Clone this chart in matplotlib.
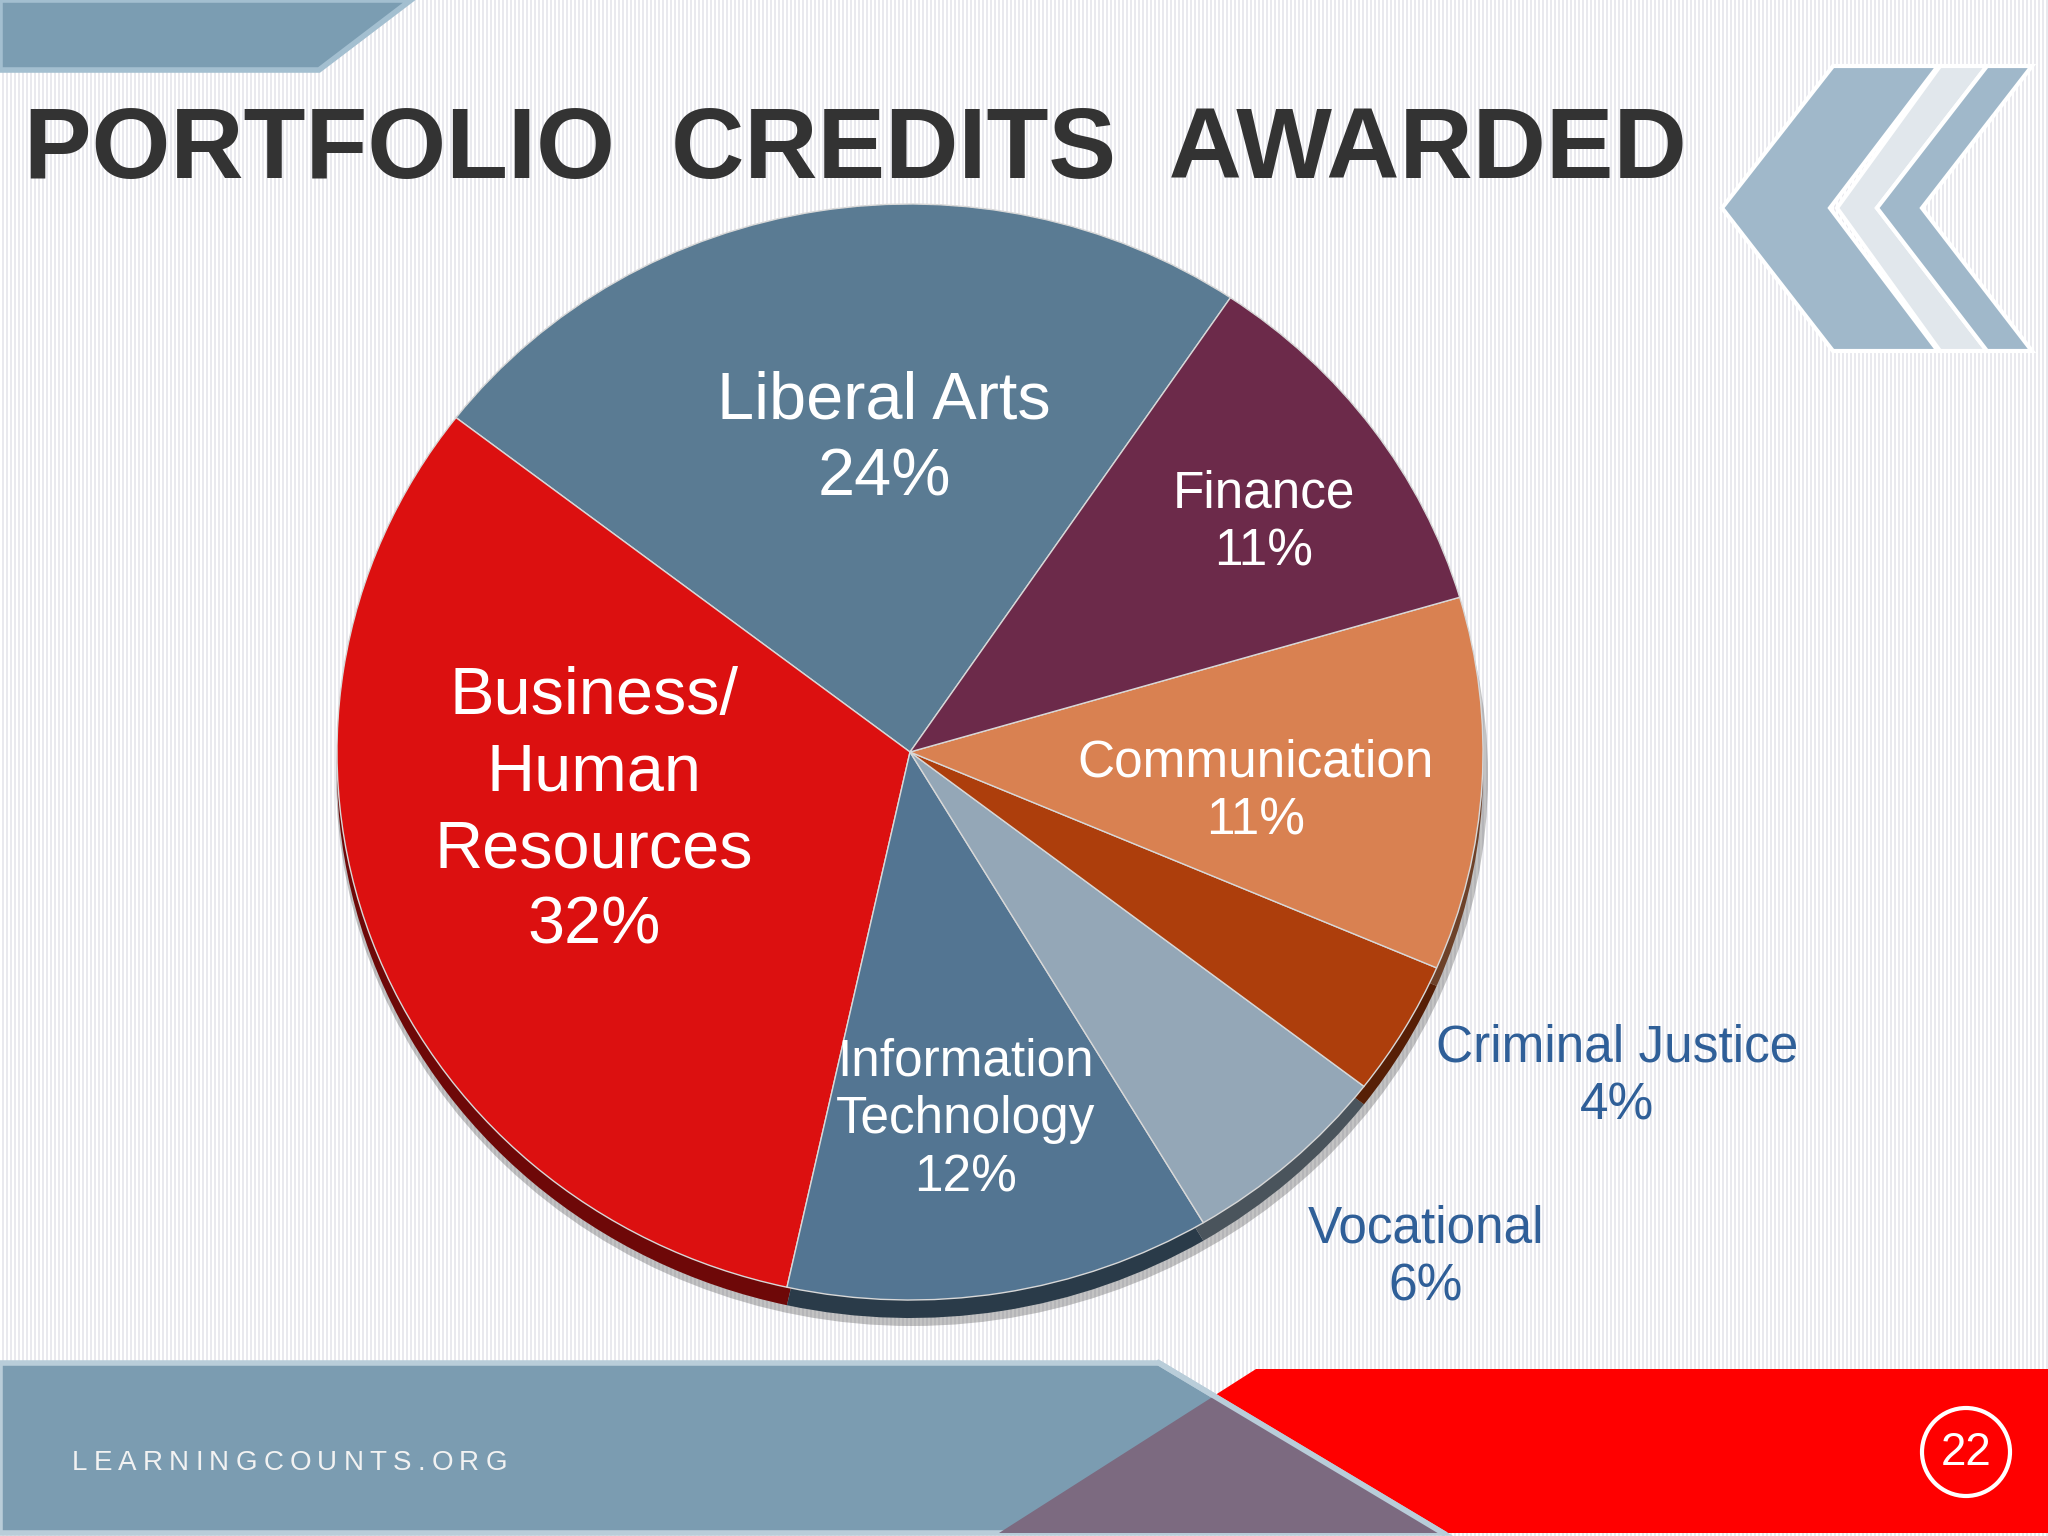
import numpy as np
import matplotlib.pyplot as plt
from matplotlib.patches import Polygon, Ellipse, Circle
from matplotlib.colors import to_rgb

# chart data
subjects = ['Liberal Arts', 'Business/\nHuman\nResources', 'Information\nTechnology',
            'Vocational', 'Criminal Justice', 'Communication', 'Finance']
shares = [24, 32, 12, 6, 4, 11, 11]
colors = ['#5a7b93', '#dc1010', '#537592', '#94a7b7', '#ad3e0c', '#d98151', '#6c2a4a']

# label placement (pixel coords of the slide) and style
label_pos = [(884, 440), (594, 812), (966, 1120), (1426, 1258), (1617, 1077), (1256, 792), (1264, 523)]
label_size = [48, 48, 37, 37, 37, 37, 37]
label_space = [1.3, 1.3, 1.25, 1.25, 1.25, 1.25, 1.25]
label_color = ['white', 'white', 'white', '#2f5f98', '#2f5f98', 'white', 'white']

W, H = 2048, 1536
plt.rcParams['font.family'] = ['Liberation Sans', 'DejaVu Sans']
fig = plt.figure(figsize=(20.48, 15.36), dpi=100)
bg = fig.add_axes([0, 0, 1, 1])

# striped backdrop
stripes = np.ones((1, W, 3))
stripes[0, np.arange(W) % 4 >= 2] = [0.915, 0.915, 0.935]
bg.imshow(stripes, extent=[0, W, H, 0], aspect='auto', interpolation='nearest', zorder=0)
bg.set_xlim(0, W)
bg.set_ylim(H, 0)
bg.axis('off')

# top-left banner
bg.add_patch(Polygon([(0, 0), (411, 0), (319, 70), (0, 70)], closed=True,
                     facecolor='#7b9db2', edgecolor='#a3bfd0', lw=4, zorder=2))

# chevrons top right
bg.add_patch(Polygon([(1722, 208), (1833, 66), (1938, 66), (1830, 208), (1938, 351), (1833, 351)],
                     closed=True, facecolor='#a0b8ca', edgecolor='white', lw=3, zorder=2))
bg.add_patch(Polygon([(1837, 208), (1940, 66), (1987, 66), (1877, 208), (1987, 351), (1940, 351)],
                     closed=True, facecolor='#e1e7ec', edgecolor='white', lw=3, zorder=2))
bg.add_patch(Polygon([(1877, 208), (1987, 66), (2032, 66), (1922, 208), (2032, 351), (1987, 351)],
                     closed=True, facecolor='#a0b8ca', edgecolor='white', lw=3, zorder=2))

# title
bg.text(24, 178, 'PORTFOLIO  CREDITS  AWARDED', fontsize=73, fontweight='bold',
        color='#333333', va='baseline', ha='left', zorder=3)

# bottom bands
bg.add_patch(Polygon([(1256, 1369), (W, 1369), (W, 1533), (999, 1533)], closed=True,
                     facecolor='#ff0000', edgecolor='none', zorder=2))
bg.add_patch(Polygon([(0, 1363), (1159, 1363), (1443, 1533), (0, 1533)], closed=True,
                     facecolor='#7b9cb1', edgecolor='#b9cdd9', lw=4, zorder=2))
bg.add_patch(Polygon([(1214, 1396), (999, 1533), (1443, 1533)], closed=True,
                     facecolor='#7c6a80', edgecolor='none', zorder=2))
bg.plot([1159, 1443], [1363, 1533], color='#b9cdd9', lw=4, zorder=2)

# page number
bg.add_patch(Circle((1966, 1452), 44, facecolor='none', edgecolor='white', lw=3, zorder=3))
bg.text(1966, 1453, '22', fontsize=33, color='white', ha='center', va='center', zorder=4)

# footer text with letter spacing
fig.canvas.draw()
renderer = fig.canvas.get_renderer()
x = 72
for ch in 'LEARNINGCOUNTS.ORG':
    t = bg.text(x, 1470, ch, fontsize=20, color='#f2f2f2', va='baseline', ha='left', zorder=4)
    ext = t.get_window_extent(renderer)
    x += ext.width + 6.2

# pie: darker copy underneath for the 3D rim, then the face
cx, cy, rx, ry = 910, 752, 573, 548
depth = 18
bg.add_patch(Ellipse((cx + 2, cy + depth + 6), 2 * rx + 6, 2 * ry + 4, facecolor='#555555',
                     alpha=0.35, edgecolor='none', zorder=1))
side_colors = [tuple(0.5 * c for c in to_rgb(col)) for col in colors]
for cols, dy, edge in [(side_colors, depth, 'none'), (colors, 0, '#d8d8d8')]:
    ax = fig.add_axes([(cx - rx) / W, 1 - (cy + dy + ry) / H, 2 * rx / W, 2 * ry / H])
    ax.pie(shares, colors=cols, startangle=56, counterclock=True,
           wedgeprops=dict(edgecolor=edge, linewidth=1.0))
    ax.set_aspect('auto')
    ax.set_xlim(-1, 1)
    ax.set_ylim(-1, 1)
    ax.axis('off')

for name, share, pos, size, sp, col in zip(subjects, shares, label_pos, label_size,
                                           label_space, label_color):
    fig.text(pos[0], pos[1], f'{name}\n{share}%', transform=bg.transData, fontsize=size,
             color=col, ha='center', va='center', multialignment='center', linespacing=sp)

fig.savefig('out.png', dpi=100)
